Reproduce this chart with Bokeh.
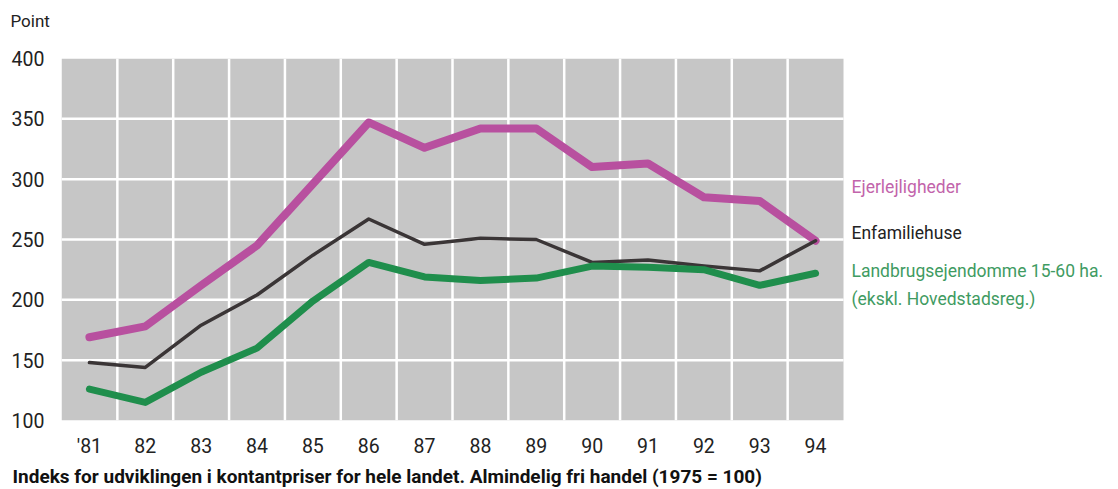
from bokeh.plotting import figure
from bokeh.models import Label, FixedTicker, Title
from bokeh.embed import file_html
from bokeh.resources import INLINE

years = [1981, 1982, 1983, 1984, 1985, 1986, 1987, 1988, 1989, 1990, 1991, 1992, 1993, 1994]
year_labels = ["'81", "82", "83", "84", "85", "86", "87", "88", "89", "90", "91", "92", "93", "94"]
ejerlejligheder = [169, 178, 212, 245, 296, 347, 326, 342, 342, 310, 313, 285, 282, 249]
enfamiliehuse = [148, 144, 179, 204, 237, 267, 246, 251, 250, 231, 233, 228, 224, 249]
landbrug = [126, 115, 140, 160, 199, 231, 219, 216, 218, 228, 227, 225, 212, 222]
y_ticks = [100, 150, 200, 250, 300, 350, 400]
series_names = ["Ejerlejligheder", "Enfamiliehuse", "Landbrugsejendomme 15-60 ha.", "(ekskl. Hovedstadsreg.)"]
caption = "Indeks for udviklingen i kontantpriser for hele landet. Almindelig fri handel (1975 = 100)"
y_unit = "Point"

FONT = "Roboto"
x0, x1 = years[0] - 0.5, years[-1] + 0.5
px_per_year = 782 / 14.0
x_end = x0 + 1057 / px_per_year

p = figure(frame_width=1057, frame_height=362, output_backend="svg", toolbar_location=None,
           x_range=(x0, x_end), y_range=(y_ticks[0], y_ticks[-1]),
           min_border_left=61, min_border_top=58, min_border_right=0, min_border_bottom=69)
p.outline_line_color = None
p.background_fill_color = "white"
p.border_fill_color = "white"
p.grid.visible = False

# shaded plotting area
p.quad(left=[x0], right=[x1], bottom=[y_ticks[0]], top=[y_ticks[-1]], fill_color="#c6c6c6", line_color=None)
# white grid
vx = [y + 0.5 for y in years[:-1]]
p.segment(x0=vx, x1=vx, y0=[y_ticks[0]] * len(vx), y1=[y_ticks[-1]] * len(vx), line_color="white", line_width=2.5)
hy = y_ticks[1:-1]
p.segment(x0=[x0] * len(hy), x1=[x1] * len(hy), y0=hy, y1=hy, line_color="white", line_width=2.5)

p.xaxis.ticker = FixedTicker(ticks=years)
p.xaxis.major_label_overrides = {y: l for y, l in zip(years, year_labels)}
p.yaxis.ticker = FixedTicker(ticks=y_ticks)
for ax in (p.xaxis, p.yaxis):
    ax.axis_line_color = None
    ax.major_tick_line_color = None
    ax.minor_tick_line_color = None
    ax.major_label_text_font = FONT
    ax.major_label_text_font_size = "19.5px"
    ax.major_label_text_color = "#222222"
    ax.major_tick_out = 0
    ax.major_tick_in = 0
p.xaxis.major_label_standoff = 14
p.yaxis.major_label_standoff = 17

p.line(years, ejerlejligheder, line_color="#b8509f", line_width=8, line_join="round", line_cap="round")
p.line(years, enfamiliehuse, line_color="#3a3536", line_width=3.5, line_join="round", line_cap="round")
p.line(years, landbrug, line_color="#1f8e4c", line_width=7, line_join="round", line_cap="round")

lx = x1 + 8 / px_per_year
def lab(y, text, color):
    p.add_layout(Label(x=lx, y=y, text=text, text_color=color, text_font=FONT,
                       text_font_size="17.5px", text_baseline="middle"))

lab(293.1, series_names[0], "#c264ab")
lab(255.8, series_names[1], "#222222")
lab(223.5, series_names[2], "#3f9b62")
lab(201.1, series_names[3], "#3f9b62")

# unit label above the value axis (second line is a spacer to lift it)
p.title.text = y_unit + "\n\u00a0"
p.title.align = "left"
p.title.offset = -51
p.title.standoff = 0
p.title.vertical_align = "bottom"
p.title.text_line_height = 1.4
p.title.text_font = FONT
p.title.text_font_size = "17px"
p.title.text_font_style = "normal"
p.title.text_color = "#222222"

p.add_layout(Title(text=caption, align="left", offset=-49, standoff=5, text_font=FONT,
                   text_font_size="19px", text_font_style="bold", text_color="#111111"), "below")

open("out.html", "w").write(file_html(p, INLINE))
